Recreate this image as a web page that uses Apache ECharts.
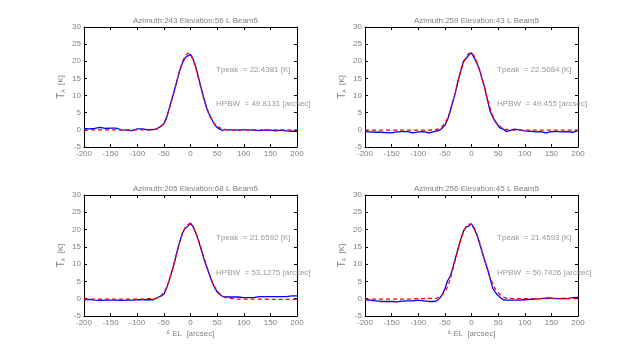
<!DOCTYPE html>
<html><head><meta charset="utf-8">
<script src="https://cdn.jsdelivr.net/npm/echarts@6/dist/echarts.min.js"></script>
<style>html,body{margin:0;padding:0;background:#fff}#c{width:640px;height:356px}</style>
</head><body><div id="c"></div>
<script>
// shared x offsets (arcsec)
var xs = [-200,-190,-180,-170,-160,-150,-140,-130,-120,-110,-100,-90,-80,-70,
  -65,-60,-55,-50,-45,-40,-35,-30,-25,-20,-15,-10,-5,0,5,10,15,20,25,30,35,40,45,50,55,60,65,
  70,80,90,100,110,120,130,140,150,160,170,180,190,200];

var titles = ['Azimuth:243 Elevation:56 L Beam5','Azimuth:259 Elevation:43 L Beam5',
              'Azimuth:205 Elevation:68 L Beam5','Azimuth:256 Elevation:45 L Beam5'];
var tpeaks = ['22.4381','22.5084','21.6592','21.4593'];
var hpbws  = ['49.8131','49.455','53.1275','50.7426'];

var xTicks = [-200,-150,-100,-50,0,50,100,150,200];
var yTicks = [-5,0,5,10,15,20,25,30];

// measured (blue)
var meas1 = [0.4,0.3,0.4,0.7,0.4,0.5,0.5,0.0,-0.1,-0.2,0.3,0.3,0.0,0.1,
  0.2,0.6,1.1,1.8,3.5,6.2,8.9,11.7,14.6,17.4,19.6,21.0,21.6,22.0,20.6,18.3,15.3,12.2,9.3,6.6,4.6,3.1,1.6,0.7,0.2,-0.2,0.1,
  0.0,0.0,-0.1,0.0,0.0,-0.1,-0.2,0.0,-0.1,-0.3,-0.1,-0.3,-0.4,-0.4];
var meas2 = [-0.6,-0.6,-0.7,-0.7,-0.8,-0.9,-0.6,-0.5,-0.5,-0.9,-0.6,-0.5,-0.9,-0.5,
  -0.3,-0.1,0.5,1.3,3.0,5.5,8.3,11.0,14.5,17.3,20.0,20.8,21.8,22.5,21.0,19.5,17.5,14.8,12.2,8.6,5.5,3.7,2.3,1.2,0.4,0.2,-0.5,
  -0.3,0.2,0.0,-0.3,-0.4,-0.6,-0.5,-0.9,-0.5,-0.5,-0.6,-0.5,-0.7,-0.2];
var meas3 = [-0.3,-0.2,-0.4,-0.5,-0.4,-0.4,-0.4,-0.5,-0.4,-0.4,-0.3,-0.3,-0.3,-0.3,
  0.1,0.5,0.8,1.3,3.0,5.3,7.9,10.5,13.8,16.6,19.0,20.3,21.0,21.9,20.8,19.0,16.8,14.3,11.7,9.3,7.2,5.0,3.3,2.0,1.2,0.7,0.5,
  0.5,0.5,0.5,0.3,0.3,0.4,0.6,0.6,0.6,0.6,0.6,0.6,0.8,0.8];
var meas4 = [-0.3,-0.4,-0.6,-0.8,-0.8,-0.8,-0.9,-0.7,-0.6,-0.6,-0.4,-0.6,-0.8,-0.8,
  -0.6,0.1,1.2,2.8,5.2,6.4,9.0,11.8,14.6,17.3,19.6,20.8,21.0,21.7,20.2,18.6,16.0,13.5,10.9,8.6,5.8,3.0,1.8,0.9,0.2,-0.3,-0.4,
  -0.4,-0.4,-0.4,-0.3,-0.2,-0.1,0.0,0.2,0.2,0.0,0.1,0.0,0.3,0.4];

// gaussian fit (red dashed)
var fit1 = [0,0,0,0,0,0,0,0,0,0,0,0,0,0,
  0.2,0.5,1.0,2.0,3.7,6.0,8.8,11.5,14.5,17.5,19.9,21.5,22.4,22.0,20.4,18.0,15.0,12.0,9.0,6.4,4.4,2.8,1.8,1.1,0.6,0.3,0.1,
  0,0,0,0,0,0,0,0,0,0,0,0,0,0];
var fit2 = [-0.1,-0.1,-0.1,-0.1,-0.1,-0.1,-0.1,-0.1,-0.1,-0.1,-0.1,-0.1,-0.1,0.0,
  0.1,0.4,1.0,1.9,3.3,5.4,8.1,11.1,14.3,17.2,19.6,21.3,22.3,22.5,21.6,19.8,17.6,15.0,12.0,9.0,6.3,4.0,2.5,1.5,0.8,0.3,0.1,
  0.0,-0.1,-0.1,-0.1,-0.1,-0.1,-0.1,-0.1,-0.1,-0.1,-0.1,-0.1,-0.1,-0.1];
var fit3 = [-0.1,-0.1,-0.1,-0.1,-0.1,-0.1,-0.1,-0.1,-0.1,-0.1,-0.1,-0.1,0.0,0.0,
  0.1,0.4,0.9,1.8,3.2,5.2,7.8,10.7,13.7,16.5,18.9,20.6,21.5,21.6,20.8,19.3,17.0,14.5,12.0,9.6,7.3,5.2,3.5,2.3,1.4,0.8,0.4,
  0.2,0.0,-0.1,-0.1,-0.1,-0.1,-0.1,-0.1,-0.2,-0.2,-0.2,-0.2,-0.2,-0.2];
var fit4 = [-0.1,-0.1,-0.1,-0.1,-0.1,-0.1,-0.1,-0.1,-0.1,0.0,0.0,0.0,0.1,0.1,
  0.2,0.5,1.1,2.0,3.5,5.6,8.6,11.5,14.5,17.2,19.3,20.8,21.6,21.5,20.5,18.7,16.4,13.7,11.0,8.4,6.1,4.2,2.7,1.7,1.0,0.5,0.2,
  0.1,0.0,0.0,0.0,0.0,0.0,0.0,0.0,0.0,0.0,0.0,0.0,0.0,0.0];

var measAll = [meas1, meas2, meas3, meas4];
var fitAll = [fit1, fit2, fit3, fit4];

function pairs(ys){ return xs.map(function(x,i){ return [x, ys[i]]; }); }

var FONT = 'Liberation Sans';
var TXT = '#808080';
var grids = [
  {left:84, top:27, width:213, height:120},
  {left:365, top:27, width:213, height:120},
  {left:84, top:195, width:213, height:121},
  {left:365, top:195, width:213, height:121}
];

var option = {animation:false, backgroundColor:'#fff',
  grid: grids, xAxis: [], yAxis: [], series: [], title: []};

grids.forEach(function(g, k){
  option.title.push({text: titles[k], left: g.left + g.width/2, top: g.top - 15, textAlign: 'center',
    textStyle:{fontFamily:FONT, fontSize:8, fontWeight:'normal', color:TXT}});
  var lineStyle = {color:'#000', width:1};
  var bottomRow = k >= 2;
  option.xAxis.push({gridIndex:k, type:'value', min:-200, max:200, interval:50, position:'bottom',
    axisLine:{show:true, onZero:false, lineStyle:lineStyle},
    axisTick:{show:true, inside:true, length:3, lineStyle:lineStyle},
    axisLabel:{fontFamily:FONT, fontSize:8, color:TXT, margin:3},
    splitLine:{show:false},
    name: bottomRow ? '{d|Δ} EL  [arcsec]' : '', nameLocation:'middle', nameGap:14,
    nameTextStyle:{fontFamily:FONT, fontSize:8, color:TXT, rich:{d:{fontSize:5, color:TXT, fontFamily:FONT, verticalAlign:'top'}}}
  });
  option.xAxis.push({gridIndex:k, type:'value', min:-200, max:200, interval:50, position:'top',
    axisLine:{show:true, onZero:false, lineStyle:lineStyle},
    axisTick:{show:true, inside:true, length:3, lineStyle:lineStyle},
    axisLabel:{show:false}, splitLine:{show:false}});
  option.yAxis.push({gridIndex:k, type:'value', min:-5, max:30, interval:5, position:'left',
    axisLine:{show:true, onZero:false, lineStyle:lineStyle},
    axisTick:{show:true, inside:true, length:3, lineStyle:lineStyle},
    axisLabel:{fontFamily:FONT, fontSize:8, color:TXT, margin:3},
    splitLine:{show:false},
    name:'{t|T}{a|A}  [K]', nameLocation:'middle', nameGap:18, nameRotate:90,
    nameTextStyle:{fontFamily:FONT, fontSize:8, color:TXT,
      rich:{t:{fontSize:10, color:TXT, fontFamily:FONT}, a:{fontSize:5, color:TXT, fontFamily:FONT, verticalAlign:'bottom'}}}
  });
  option.yAxis.push({gridIndex:k, type:'value', min:-5, max:30, interval:5, position:'right',
    axisLine:{show:true, onZero:false, lineStyle:lineStyle},
    axisTick:{show:true, inside:true, length:3, lineStyle:lineStyle},
    axisLabel:{show:false}, splitLine:{show:false}});
  var xi = 2*k, yi = 2*k;
  option.series.push({type:'line', xAxisIndex:xi, yAxisIndex:yi, data:pairs(measAll[k]), showSymbol:false,
    lineStyle:{color:'#0000ff', width:1.3}, z:2, silent:true});
  option.series.push({type:'line', xAxisIndex:xi, yAxisIndex:yi, data:pairs(fitAll[k]), showSymbol:false,
    lineStyle:{color:'#ff0000', width:1.3, type:[4,3]}, z:3, silent:true});
  option.series.push({type:'scatter', xAxisIndex:xi, yAxisIndex:yi, symbolSize:0, silent:true,
    data:[[48,17.5],[48,7.5]],
    label:{show:true, position:'right', distance:0, fontFamily:FONT, fontSize:8, color:TXT,
      formatter:function(p){ return p.dataIndex===0 ? 'Tpeak  = ' + tpeaks[k] + ' [K]' : 'HPBW  = ' + hpbws[k] + ' [arcsec]'; }}});
});

var chart = echarts.init(document.getElementById('c'), null, {renderer:'canvas'});
chart.setOption(option);
</script></body></html>
